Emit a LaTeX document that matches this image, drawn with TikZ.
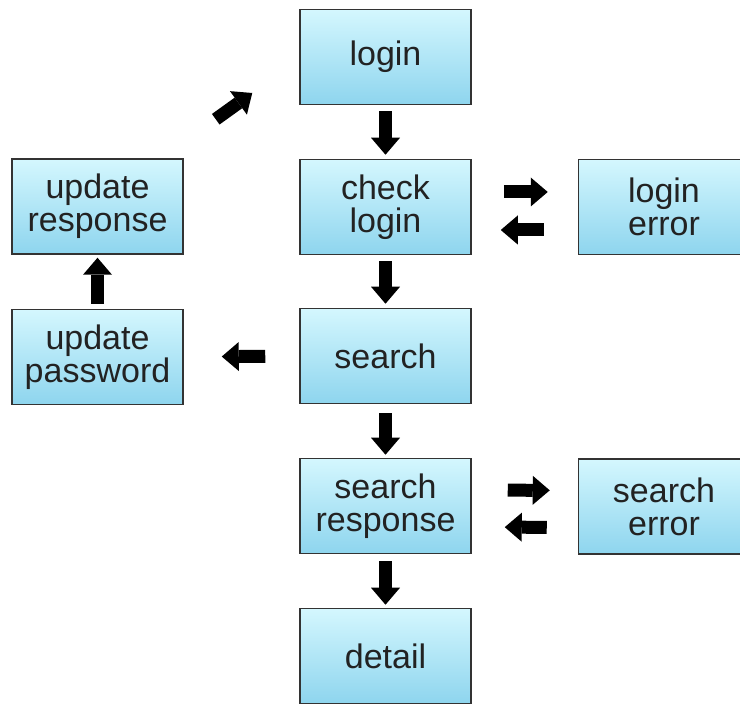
\documentclass[tikz,border=0pt]{standalone}
\usepackage{fontspec}
\setmainfont{Liberation Sans}
\usepackage{tikz}
\usetikzlibrary{arrows.meta,calc}
\definecolor{boxtop}{HTML}{D4F7FE}
\definecolor{boxbot}{HTML}{8ED5EE}
\definecolor{boxline}{HTML}{333333}
\definecolor{boxtext}{HTML}{222222}
\tikzset{
  stepbox/.style={ draw=boxline, line width=1.5pt, top color=boxtop, bottom color=boxbot,
    minimum width=171pt, minimum height=95pt, inner sep=0pt, align=center,
    text=boxtext, font=\fontsize{34}{33}\selectfont }
}
\tikzset{
  blockarrow/.style={ line width=13pt, -{Triangle[length=17pt,width=29pt,line width=0pt]} }
}
\begin{document}
\begin{tikzpicture}[x=1pt, y=1pt]
      \useasboundingbox (0, 0) rectangle (740, 704);
      \node[stepbox] (login) at (385.5, 647) {login};
      \node[stepbox] (check) at (385.5, 497) {check\\login};
      \node[stepbox] (search) at (385.5, 348) {search};
      \node[stepbox] (sresp) at (385.5, 198) {search\\response};
      \node[stepbox] (detail) at (385.5, 48) {detail};
      \node[stepbox] (uresp) at (97.5, 497.5) {update\\response};
      \node[stepbox] (upass) at (97.5, 347) {update\\password};
      \node[stepbox] (lerr) at (664, 497) {login\\error};
      \node[stepbox] (serr) at (664, 197.5) {search\\error};
      % main column
      \draw[blockarrow, shorten <=6pt, shorten >=4pt] (login) -- (check);
      \draw[blockarrow, shorten <=6pt, shorten >=4pt] (check) -- (search);
      \draw[blockarrow, shorten <=9pt, shorten >=3pt] (search) -- (sresp);
      \draw[blockarrow, shorten <=7pt, shorten >=3pt] (sresp) -- (detail);
      % left loop
      \draw[blockarrow, shorten <=34pt, shorten >=38pt] (search) -- (upass);
      \draw[blockarrow, shorten <=5pt, shorten >=3pt] (upass) -- (uresp);
      \draw[blockarrow] ($(uresp.north east)+(32, 39)$) -- ($(login.west)+(-47, -36)$);
      % error boxes
      \draw[blockarrow, shorten <=32pt, shorten >=30pt] ([yshift=15pt]check.east) -- ([yshift=15pt]lerr.west);
      \draw[blockarrow, shorten <=34pt, shorten >=29pt] ([yshift=-23pt]lerr.west) -- ([yshift=-23pt]check.east);
      \draw[blockarrow, shorten <=36pt, shorten >=28pt] ([yshift=16pt]sresp.east) -- ([yshift=16pt]serr.west);
      \draw[blockarrow, shorten <=31pt, shorten >=33pt] ([yshift=-21pt]serr.west) -- ([yshift=-21pt]sresp.east);
    \end{tikzpicture}
\end{document}
